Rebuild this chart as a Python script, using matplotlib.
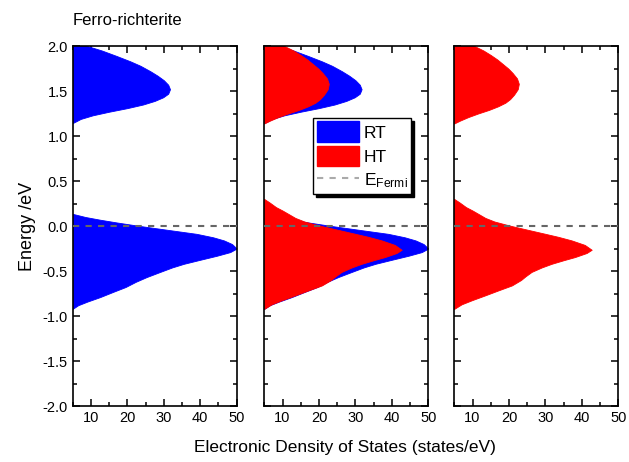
import matplotlib
matplotlib.use("Agg")
import matplotlib.pyplot as plt
from matplotlib.patches import Patch
from matplotlib.lines import Line2D
from matplotlib.ticker import MultipleLocator, FormatStrFormatter

plt.rcParams["font.family"] = ["Liberation Sans", "DejaVu Sans"]
plt.rcParams["mathtext.default"] = "regular"

# ----- data (energy in eV, DOS in states/eV) -----
rt_up_e = [2.05, 2.00, 1.95, 1.89, 1.83, 1.78, 1.72, 1.67, 1.62, 1.57, 1.52, 1.47, 1.43, 1.39, 1.35, 1.31, 1.27, 1.23, 1.19, 1.15, 1.12, 1.09]
rt_up_dos = [6, 9, 13, 17, 20.8, 23.6, 26.3, 28.3, 30, 31.2, 31.7, 31.2, 29.8, 27.5, 24.3, 20, 15, 10.5, 7.2, 5.3, 3, 0]

rt_lo_e = [0.18, 0.135, 0.10, 0.07, 0.04, 0.0, -0.045, -0.087, -0.125, -0.16, -0.20, -0.25, -0.29, -0.33, -0.38, -0.42, -0.46, -0.51, -0.567, -0.62, -0.678, -0.73, -0.79, -0.84, -0.88, -0.92, -0.95]
rt_lo_dos = [0, 5, 8.5, 12.5, 17, 23.5, 31.5, 39, 43.5, 46.5, 48.7, 50, 48.2, 44.6, 39.5, 35.5, 32.3, 29, 25.3, 22.3, 19.5, 16.2, 12.5, 9, 6.5, 5, 0]

ht_up_e = [2.05, 2.00, 1.95, 1.90, 1.85, 1.80, 1.75, 1.70, 1.64, 1.58, 1.52, 1.46, 1.41, 1.37, 1.33, 1.29, 1.25, 1.21, 1.17, 1.14, 1.10]
ht_up_dos = [8, 10.5, 13, 15, 16.8, 18.3, 19.8, 21, 22.2, 22.7, 22.4, 21.4, 20.3, 19, 17, 14.5, 11.5, 8.8, 6.5, 5, 0]

ht_lo_e = [0.34, 0.30, 0.26, 0.21, 0.172, 0.13, 0.09, 0.05, 0.02, 0.0, -0.045, -0.087, -0.12, -0.16, -0.21, -0.264, -0.30, -0.345, -0.38, -0.42, -0.46, -0.51, -0.56, -0.60, -0.66, -0.715, -0.77, -0.825, -0.87, -0.92, -0.95]
ht_lo_dos = [0, 5, 6.5, 8.2, 10, 11.8, 13.5, 16, 18.8, 20.7, 25.5, 30, 33.5, 37.2, 40.8, 42.7, 41.3, 38.1, 35, 31.7, 29, 26.2, 24.5, 23.3, 20.8, 17.1, 13.5, 9.8, 7, 5, 0]

panels = [["RT"], ["RT", "HT"], ["HT"]]
bands = {"RT": [(rt_up_e, rt_up_dos), (rt_lo_e, rt_lo_dos)],
         "HT": [(ht_up_e, ht_up_dos), (ht_lo_e, ht_lo_dos)]}
colors = {"RT": "#0000ff", "HT": "#ff0000"}

fig = plt.figure(figsize=(6.29, 4.62), dpi=100)
lefts = [0.1156, 0.4202, 0.7223]
axes = []
for i, (left, series) in enumerate(zip(lefts, panels)):
    ax = fig.add_axes([left, 0.1212, 0.2607, 0.7792])
    for name in series:
        for e, d in bands[name]:
            ax.fill_betweenx(e, 0, d, color=colors[name], lw=0.6, zorder=2)
    ax.axhline(0, color="#666666", ls=(0, (3, 3)), lw=1.5, zorder=3)
    ax.set_xlim(5, 50)
    ax.set_ylim(-2.0, 2.0)
    ax.xaxis.set_major_locator(MultipleLocator(10))
    ax.xaxis.set_minor_locator(MultipleLocator(5))
    ax.yaxis.set_major_locator(MultipleLocator(0.5))
    ax.yaxis.set_minor_locator(MultipleLocator(0.25))
    ax.yaxis.set_major_formatter(FormatStrFormatter("%.1f"))
    ax.tick_params(which="both", direction="in", top=True, right=True, width=1.1, labelsize=10.5)
    ax.tick_params(which="major", length=5)
    ax.tick_params(which="minor", length=3)
    if i > 0:
        ax.tick_params(labelleft=False)
    for s in ax.spines.values():
        s.set_linewidth(1.2)
    axes.append(ax)

handles = [Patch(facecolor=colors["RT"], edgecolor=colors["RT"]),
           Patch(facecolor=colors["HT"], edgecolor=colors["HT"]),
           Line2D([], [], color="#aaaaaa", ls=(0, (3, 3)), lw=1.5)]
leg = axes[1].legend(handles, ["RT", "HT", r"E$_{Fermi}$"], loc="upper left",
                     bbox_to_anchor=(0.30, 0.80), fontsize=12.5, frameon=True,
                     fancybox=False, edgecolor="black", framealpha=1,
                     shadow={"color": "black", "alpha": 1},
                     handlelength=2.4, handleheight=1.45, handletextpad=0.3,
                     labelspacing=0.2, borderpad=0.2, borderaxespad=0)
leg.get_frame().set_linewidth(1.0)
leg.set_zorder(5)

fig.text(0.116, 0.955, "Ferro-richterite", fontsize=12, ha="left", va="center")
fig.text(0.043, 0.51, "Energy /eV", rotation=90, fontsize=13, ha="center", va="center")
fig.text(0.548, 0.032, "Electronic Density of States (states/eV)", fontsize=12.5, ha="center", va="center")

fig.savefig("out.png", dpi=100)
